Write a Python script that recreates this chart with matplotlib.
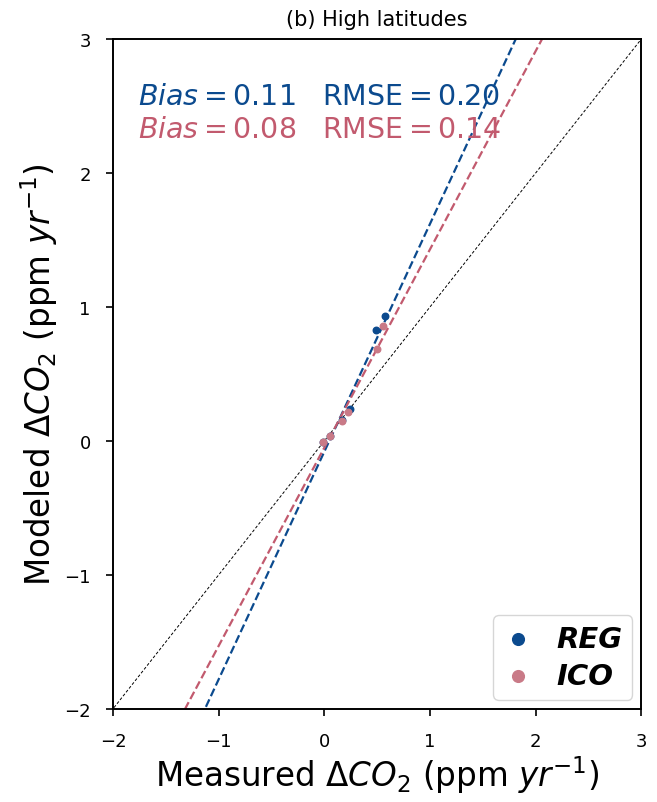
import numpy as np
import matplotlib
matplotlib.use("Agg")
import matplotlib.pyplot as plt

# measured vs modeled growth rate (ppm/yr)
reg_meas = [-0.01, 0.05, 0.17, 0.24, 0.49, 0.57]
reg_mod = [-0.01, 0.04, 0.16, 0.24, 0.83, 0.93]
ico_meas = [-0.01, 0.05, 0.17, 0.22, 0.50, 0.56]
ico_mod = [-0.01, 0.04, 0.15, 0.22, 0.69, 0.86]

# regression fits (slope, intercept)
reg_fit = (1.70, -0.08)
ico_fit = (1.48, -0.05)

reg_stats = (0.11, 0.20)
ico_stats = (0.08, 0.14)

blue = '#0b4a8e'
pink = '#c25a6e'
pink_dot = '#c97a87'

fig = plt.figure(figsize=(6.57, 8.03), dpi=100)
ax = fig.add_axes([0.172, 0.116, 0.804, 0.834])

xx = np.array([-3, 4])
ax.plot(xx, xx, 'k--', lw=0.7, dashes=(3, 2))
ax.plot(xx, reg_fit[0] * xx + reg_fit[1], '--', color=blue, lw=1.6)
ax.plot(xx, ico_fit[0] * xx + ico_fit[1], '--', color=pink, lw=1.6)

ax.scatter(reg_meas, reg_mod, s=22, color=blue, label='REG', zorder=3)
ax.scatter(ico_meas, ico_mod, s=22, color=pink_dot, label='ICO', zorder=3)

ax.set_xlim(-2, 3)
ax.set_ylim(-2, 3)
ax.set_xticks([-2, -1, 0, 1, 2, 3])
ax.set_yticks([-2, -1, 0, 1, 2, 3])
ax.tick_params(labelsize=13, length=5, width=1.2)
ax.tick_params(axis='x', pad=12)
ax.tick_params(axis='y', pad=11)
for s in ax.spines.values():
    s.set_linewidth(1.4)

ax.set_title('(b) High latitudes', fontsize=15, pad=10)
ax.set_xlabel(r'Measured $\Delta CO_2$ (ppm $yr^{-1}$)', fontsize=23.5, labelpad=2)
ax.set_ylabel(r'Modeled $\Delta CO_2$ (ppm $yr^{-1}$)', fontsize=23.5, labelpad=3)

ax.text(0.047, 0.915, r'$Bias = %.2f$' % reg_stats[0], transform=ax.transAxes,
        fontsize=20.5, color=blue, va='center')
ax.text(0.396, 0.915, r'$\mathrm{RMSE} = %.2f$' % reg_stats[1], transform=ax.transAxes,
        fontsize=20.5, color=blue, va='center')
ax.text(0.047, 0.866, r'$Bias = %.2f$' % ico_stats[0], transform=ax.transAxes,
        fontsize=20.5, color=pink, va='center')
ax.text(0.396, 0.866, r'$\mathrm{RMSE} = %.2f$' % ico_stats[1], transform=ax.transAxes,
        fontsize=20.5, color=pink, va='center')

leg = ax.legend(loc='lower right', prop={'size': 21, 'weight': 'bold', 'style': 'italic'},
                handlelength=1.0, handletextpad=0.8, markerscale=1.8,
                borderpad=0.35, labelspacing=0.3, borderaxespad=0.3)

fig.savefig('out.png', dpi=100)
